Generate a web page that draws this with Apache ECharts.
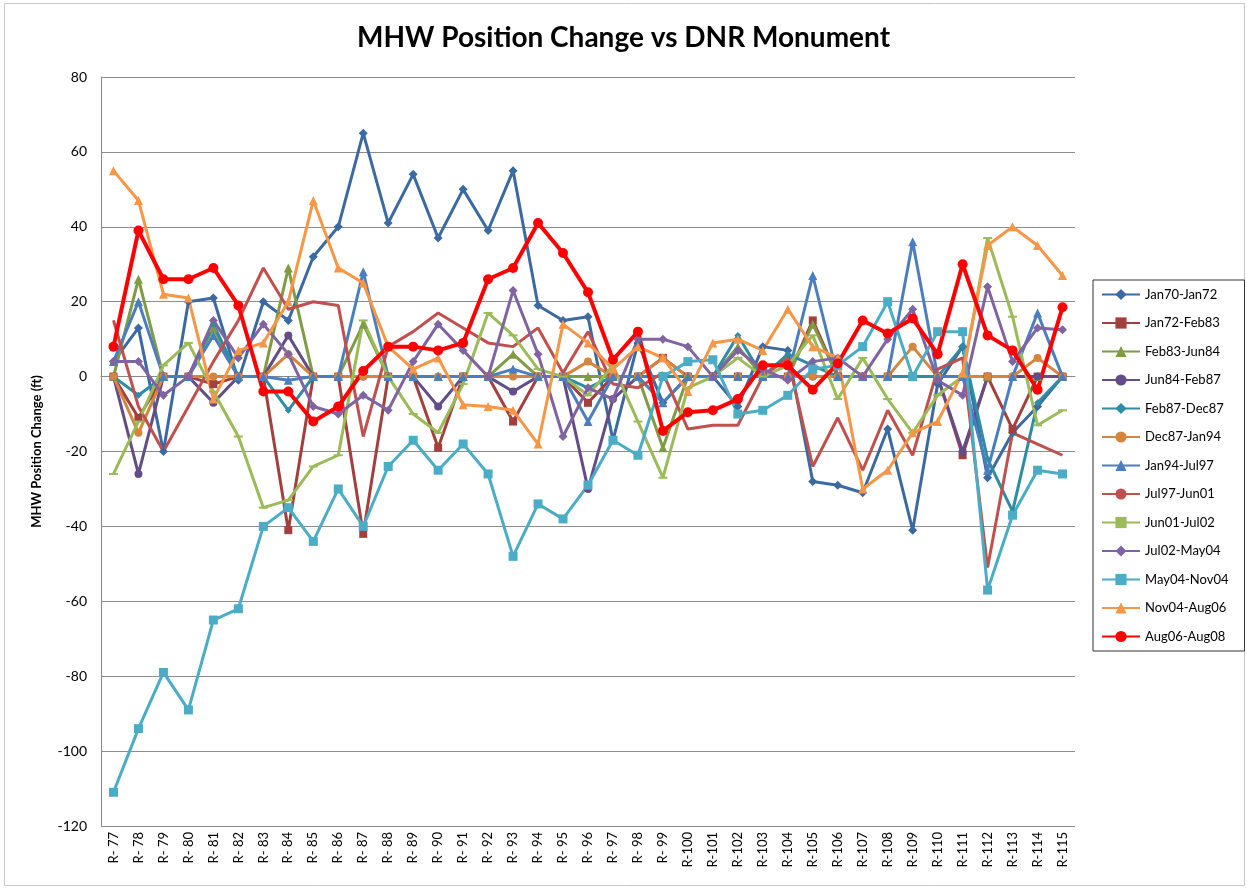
<!DOCTYPE html>
<html>
<head>
<meta charset="utf-8">
<title>MHW Position Change vs DNR Monument</title>
<script src="https://cdn.jsdelivr.net/npm/echarts@6/dist/echarts.min.js"></script>
<style>
  html, body, #container { width: 100%; height: 100%; margin: 0; padding: 0; background: #fff; }
</style>
</head>
<body>
<div id="container"></div>
<script>
  // monuments R-77 .. R-115
  var monuments = [];
  for (var r = 77; r <= 115; r++) monuments.push(r < 100 ? 'R- ' + r : 'R-' + r);

  var yTicks = [-120, -100, -80, -60, -40, -20, 0, 20, 40, 60, 80];

  var jan70Jan72 = [4, 13, -20, 20, 21, -1, 20, 15, 32, 40, 65, 41, 54, 37, 50, 39, 55, 19, 15, 16, -17, 9, -7, 0, 0, -8, 8, 7, -28, -29, -31, -14, -41, -2, 8, -27, -15, -8, 0];
  var jan72Feb83 = [0, -11, 0, 0, -2, 0, 0, -41, 0, 0, -42, 0, 0, -19, 0, 0, -12, 0, 0, -7, 0, 0, 5, 0, 0, 0, 0, 0, 15, 0, 0, 0, 0, 0, -21, 0, -14, 0, 0];
  var feb83Jun84 = [0, 26, 0, 0, 13, 0, 0, 29, 0, 0, 14, 0, 0, 0, 0, 0, 6, 0, 0, 0, 0, 0, -19, 0, 0, 8, 0, 0, 14, 0, 0, 0, 0, 0, 0, 0, 0, 0, 0];
  var jun84Feb87 = [0, -26, 0, 0, -7, 0, 0, 11, 0, 0, 0, 0, 0, -8, 0, 0, -4, 0, 0, -30, -6, 0, 0, 0, 0, 0, 0, 0, 0, 0, 0, 0, 0, 0, -20, 0, 0, 0, 0];
  var feb87Dec87 = [0, -5, 0, 0, 14, 0, 0, -9, 0, 0, 0, 0, 0, 0, 0, 0, 0, 0, 0, -3, 0, 0, 0, 0, 0, 11, 0, 6, 3, 0, 0, 0, 0, 0, 8, -22, -36, -7, 0];
  var dec87Jan94 = [0, -15, 0, 0, 0, 0, 0, 6, 0, 0, 0, 0, 0, 0, 0, 0, 0, 0, 0, 4, 0, 0, 5, 0, 0, 0, 0, 0, 0, 0, 0, 0, 8, 0, 0, 0, 0, 5, 0];
  var jan94Jul97 = [4, 20, 0, 0, 11, 0, 0, -1, 0, 0, 28, 0, 0, 0, 0, 0, 2, 0, 0, -12, 0, 0, -7, 0, 0, 0, 0, 0, 27, 0, 0, 0, 36, 0, 0, -25, 0, 17, 0];
  var jul97Jun01 = [15, -8, -20, -8, 4, 15, 29, 18, 20, 19, -16, 8, 12, 17, 13, 9, 8, 13, 1, 12, -2, -3, 1, -14, -13, -13, 0, 5, -24, -11, -25, -9, -21, 2, 5, -51, -15, -18, -21];
  var jun01Jul02 = [-26, -12, 3, 9, -4, -16, -35, -33, -24, -21, 15, 0, -10, -15, -2, 17, 11, 2, 0, -5, 3, -12, -27, -3, 0, 5, 0, 3, 11, -6, 5, -6, -15, -5, 0, 37, 16, -13, -9];
  var jul02May04 = [4, 4, -5, 0, 15, 5, 14, 6, -8, -10, -5, -9, 4, 14, 7, 0, 23, 6, -16, -3, -6, 10, 10, 8, 0, 7, 2, -1, 4, 5, 0, 10, 18, -1, -5, 24, 4, 13, 12.5];
  var may04Nov04 = [-111, -94, -79, -89, -65, -62, -40, -35, -44, -30, -40, -24, -17, -25, -18, -26, -48, -34, -38, -29, -17, -21, 0, 4, 4.5, -10, -9, -5, 2, 3, 8, 20, 0, 12, 12, -57, -37, -25, -26];
  var nov04Aug06 = [55, 47, 22, 21, -6, 7, 9, 20, 47, 29, 25, 8, 2, 5, -7.5, -8, -9, -18, 14, 9, 2, 8, 5, -4, 9, 10, 7, 18, 8, 5, -30, -25, -15, -12, 1, 35, 40, 35, 27];
  var aug06Aug08 = [8, 39, 26, 26, 29, 19, -4, -4, -12, -8, 1.5, 8, 8, 7, 9, 26, 29, 41, 33, 22.5, 4.5, 12, -14.5, -9.5, -9, -6, 3, 3, -3.5, 3.5, 15, 11.5, 15.5, 6, 30, 11, 7, -3.5, 18.5];

  var seriesDefs = [
    { name: 'Jan70-Jan72', data: jan70Jan72, color: '#3B6AA3', symbol: 'diamond', size: 9 },
    { name: 'Jan72-Feb83', data: jan72Feb83, color: '#A33F3C', symbol: 'rect', size: 8 },
    { name: 'Feb83-Jun84', data: feb83Jun84, color: '#7F9B45', symbol: 'triangle', size: 9 },
    { name: 'Jun84-Feb87', data: jun84Feb87, color: '#644C88', symbol: 'circle', size: 8 },
    { name: 'Feb87-Dec87', data: feb87Dec87, color: '#2E8CA4', symbol: 'diamond', size: 7 },
    { name: 'Dec87-Jan94', data: dec87Jan94, color: '#D5853D', symbol: 'circle', size: 8 },
    { name: 'Jan94-Jul97', data: jan94Jul97, color: '#4A7EBE', symbol: 'triangle', size: 9 },
    { name: 'Jul97-Jun01', data: jul97Jun01, color: '#C0504D', symbol: 'none', size: 0 },
    { name: 'Jun01-Jul02', data: jun01Jul02, color: '#9BBB59', symbol: 'rect', size: [9, 2] },
    { name: 'Jul02-May04', data: jul02May04, color: '#8064A2', symbol: 'diamond', size: 9 },
    { name: 'May04-Nov04', data: may04Nov04, color: '#4BACC6', symbol: 'rect', size: 9 },
    { name: 'Nov04-Aug06', data: nov04Aug06, color: '#F79646', symbol: 'triangle', size: 9 },
    { name: 'Aug06-Aug08', data: aug06Aug08, color: '#FF0000', symbol: 'circle', size: 10, width: 4 }
  ];

  var chart = echarts.init(document.getElementById('container'));

  var option = {
    backgroundColor: '#fff',
    animation: false,
    title: {
      text: 'MHW Position Change vs DNR Monument',
      left: 'center',
      top: 19,
      textStyle: { fontFamily: 'Lato', fontSize: 28, fontWeight: 'bold', color: '#000' }
    },
    graphic: [{
      type: 'rect',
      shape: { x: 4.5, y: 3.5, width: 1240, height: 882 },
      style: { fill: 'none', stroke: '#c8c8c8', lineWidth: 1 },
      silent: true
    }],
    legend: {
      orient: 'vertical',
      left: 1093,
      top: 280,
      width: 150,
      padding: [8, 16, 8, 8],
      itemGap: 15.5,
      itemWidth: 38,
      itemHeight: 14,
      borderColor: '#333',
      borderWidth: 1,
      textStyle: { fontFamily: 'Lato', fontSize: 13, color: '#000' },
      data: seriesDefs.map(function (s) { return s.name; })
    },
    grid: { left: 101, right: 172, top: 77, bottom: 62, containLabel: false },
    xAxis: {
      type: 'category',
      data: monuments,
      boundaryGap: true,
      axisLine: { lineStyle: { color: '#888', width: 1 } },
      axisTick: { show: false },
      axisLabel: { rotate: 90, interval: 0, margin: 6, fontFamily: 'Lato', fontSize: 13, color: '#000' }
    },
    yAxis: {
      type: 'value',
      min: -120,
      max: 80,
      interval: 20,
      name: 'MHW Position Change (ft)',
      nameLocation: 'middle',
      nameGap: 58,
      nameTextStyle: { fontFamily: 'Lato', fontSize: 13, fontWeight: 'bold', color: '#000' },
      axisLine: { show: true, lineStyle: { color: '#888', width: 1 } },
      axisTick: { show: false },
      axisLabel: { margin: 14, fontFamily: 'Lato', fontSize: 14, color: '#000' },
      splitLine: { lineStyle: { color: '#8c8c8c', width: 1 } }
    },
    series: seriesDefs.map(function (s) {
      return {
        name: s.name,
        type: 'line',
        data: s.data,
        symbol: s.symbol,
        symbolSize: s.size,
        showSymbol: s.symbol !== 'none',
        lineStyle: { color: s.color, width: s.width || 3 },
        itemStyle: { color: s.color },
        emphasis: { disabled: true }
      };
    })
  };

  chart.setOption(option);
</script>
</body>
</html>
